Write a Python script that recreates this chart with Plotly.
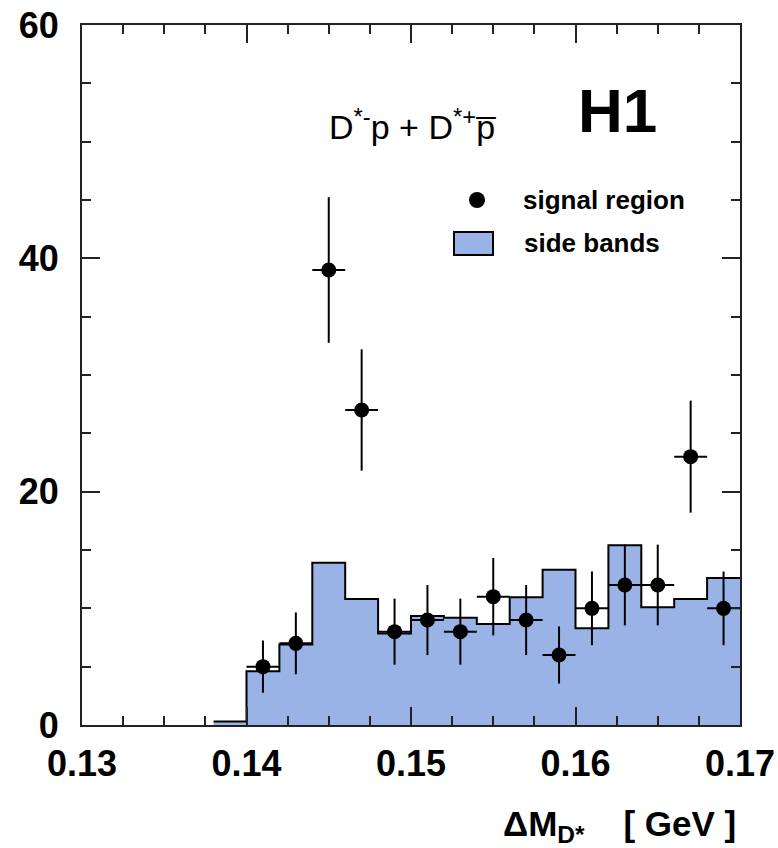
import plotly.graph_objects as go

# ---- data ----
bin_lo = [0.138, 0.140, 0.142, 0.144, 0.146, 0.148, 0.150, 0.152, 0.154,
          0.156, 0.158, 0.160, 0.162, 0.164, 0.166, 0.168]
bin_hi_last = 0.170
side_bands = [0.3, 4.6, 6.9, 13.9, 10.8, 7.85, 9.35, 9.2, 8.65,
              10.95, 13.3, 8.3, 15.4, 10.1, 10.8, 12.6]

sig_x = [0.141, 0.143, 0.145, 0.147, 0.149, 0.151, 0.153, 0.155,
         0.157, 0.159, 0.161, 0.163, 0.165, 0.167, 0.169]
sig_y = [5, 7, 39, 27, 8, 9, 8, 11, 9, 6, 10, 12, 12, 23, 10]
sig_err = [2.24, 2.65, 6.24, 5.2, 2.83, 3.0, 2.83, 3.32, 3.0, 2.45,
           3.16, 3.46, 3.46, 4.8, 3.16]
half_bin = 0.001

x_ticks = [0.13, 0.14, 0.15, 0.16, 0.17]
x_tick_text = ["0.13", "0.14", "0.15", "0.16", "0.17"]
y_ticks = [0, 20, 40, 60]
y_tick_text = ["0", "20", "40", "60"]

BLUE = "#99b3e6"
FONT = "Liberation Sans, Arial, sans-serif"

# step histogram (outline only on the contour)
hx = bin_lo + [bin_hi_last]
hy = side_bands + [side_bands[-1]]

fig = go.Figure()
fig.add_trace(go.Scatter(
    x=hx, y=hy, mode="lines", line=dict(shape="hv", color="black", width=2),
    fill="tozeroy", fillcolor=BLUE, showlegend=False, hoverinfo="skip"))

fig.add_trace(go.Scatter(
    x=sig_x, y=sig_y, mode="markers",
    marker=dict(color="black", size=15, symbol="circle"),
    error_y=dict(type="data", array=sig_err, color="black", thickness=2, width=0),
    error_x=dict(type="data", array=[half_bin] * len(sig_x), color="black",
                 thickness=2, width=0),
    showlegend=False))

L, R, T, B = 82, 38, 25, 123
W, H = 778, 848
pw, ph = W - L - R, H - T - B


def px(xp):
    return (xp - L) / pw


def py(yp):
    return (H - B - yp) / ph


axis_common = dict(
    showgrid=False, zeroline=False, showline=True, linecolor="#222",
    linewidth=2, mirror="ticks", ticks="inside", tickwidth=2, ticklen=18,
    tickcolor="#222", automargin=False,
    tickfont=dict(family=FONT, size=36, color="black", weight="bold"),
)

fig.update_xaxes(range=[0.13, 0.17], tickvals=x_ticks, ticktext=x_tick_text,
                 ticklabelstandoff=6,
                 minor=dict(ticks="inside", ticklen=9, dtick=0.0025,
                            tickwidth=2, tickcolor="#222", showgrid=False),
                 **axis_common)
fig.update_yaxes(range=[0, 60], tickvals=y_ticks, ticktext=y_tick_text,
                 ticklabelstandoff=14,
                 minor=dict(ticks="inside", ticklen=9, dtick=5,
                            tickwidth=2, tickcolor="#222", showgrid=False),
                 **axis_common)

annotations = [
    dict(text="ΔM<sub>D*</sub>    [ GeV ]", x=px(738), y=py(826), xanchor="right",
         yanchor="middle", font=dict(family=FONT, size=35, weight="bold")),
    dict(text="H1", x=px(576), y=py(110), xanchor="left", yanchor="middle",
         font=dict(family=FONT, size=62, weight="bold")),
    dict(text="D<sup>*-</sup>p + D<sup>*+</sup>p\u0305", x=px(327), y=py(124),
         xanchor="left", yanchor="middle", font=dict(family=FONT, size=34)),
    dict(text="signal region", x=px(521), y=py(200), xanchor="left",
         yanchor="middle", font=dict(family=FONT, size=26, weight="bold")),
    dict(text="side bands", x=px(522), y=py(243), xanchor="left",
         yanchor="middle", font=dict(family=FONT, size=26, weight="bold")),
]
for a in annotations:
    a.update(xref="paper", yref="paper", showarrow=False)
    a["font"]["color"] = "black"

shapes = [
    dict(type="circle", xref="paper", yref="paper",
         x0=px(477 - 8), x1=px(477 + 8), y0=py(200 + 8), y1=py(200 - 8),
         fillcolor="black", line=dict(color="black", width=0)),
    dict(type="rect", xref="paper", yref="paper",
         x0=px(454), x1=px(493), y0=py(255), y1=py(232),
         fillcolor=BLUE, line=dict(color="black", width=2)),
]

fig.update_layout(
    width=W, height=H, margin=dict(l=L, r=R, t=T, b=B, autoexpand=False),
    paper_bgcolor="white", plot_bgcolor="white",
    annotations=annotations, shapes=shapes, showlegend=False,
)

fig.write_html("out.html")
